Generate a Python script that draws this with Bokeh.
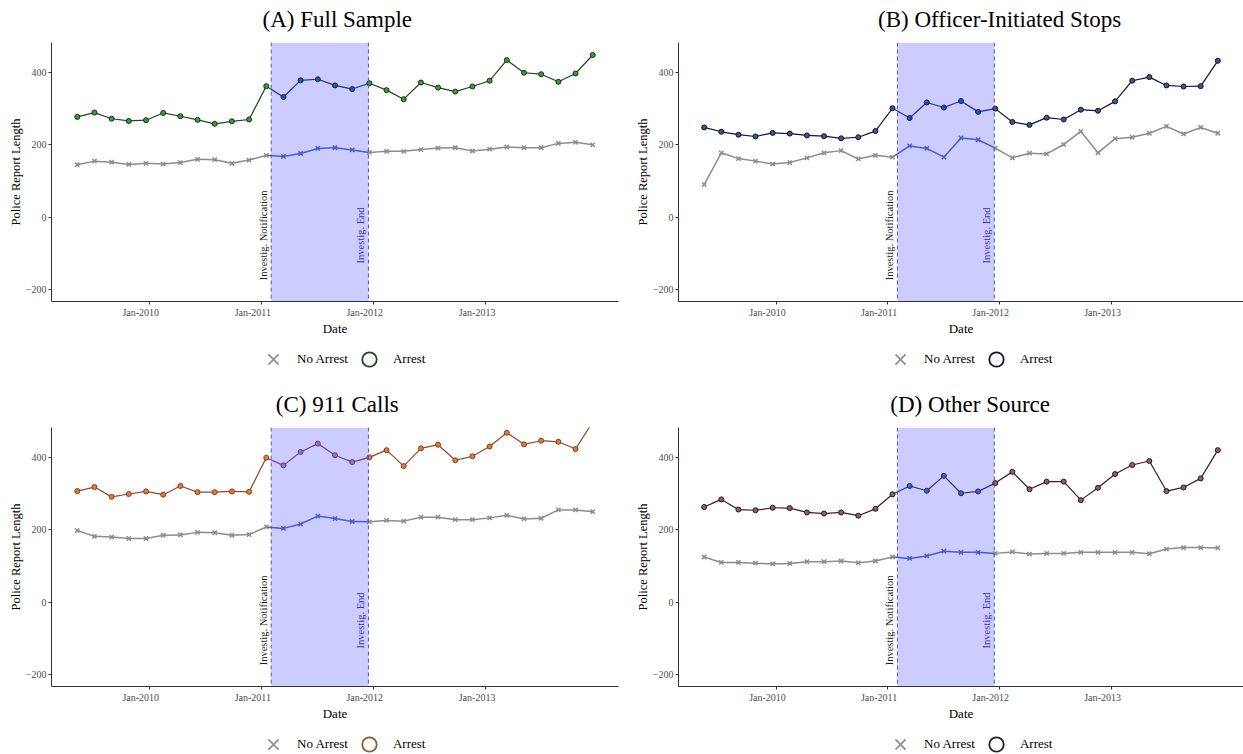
import math
import numpy as np
import pandas as pd
from bokeh.plotting import figure
from bokeh.layouts import column, row
from bokeh.models import (ColumnDataSource, Range1d, FixedTicker, BoxAnnotation, Span, Label,
                          Legend, LegendItem)
from bokeh.embed import file_html
from bokeh.resources import INLINE

# 8-week reporting windows
dates = pd.date_range("2009-05-10", periods=31, freq="56D")
investig_notification = pd.Timestamp("2011-02-01")
investig_end = pd.Timestamp("2011-12-15")

tick_dates = ["2010-01-01", "2011-01-01", "2012-01-01", "2013-01-01"]
tick_labels = ["Jan-2010", "Jan-2011", "Jan-2012", "Jan-2013"]
y_ticks = [-200, 0, 200, 400]
y_limits = (-200, 450)

full_no_arrest = [145, 155, 152, 146, 149, 147, 151, 160, 159, 149, 158, 171, 168, 176, 190, 192,
                  186, 179, 182, 182, 187, 191, 192, 183, 188, 194, 192, 192, 204, 207, 200]
full_arrest = [277, 289, 272, 266, 268, 288, 279, 269, 258, 265, 270, 362, 332, 378, 381, 364,
               354, 370, 351, 326, 372, 358, 347, 361, 377, 434, 399, 395, 374, 397, 448]

officer_no_arrest = [90, 178, 162, 155, 147, 151, 164, 178, 184, 161, 171, 166, 197, 190, 166, 219,
                     214, 191, 164, 177, 175, 201, 237, 178, 217, 221, 232, 251, 230, 248, 232]
officer_arrest = [248, 236, 228, 223, 233, 231, 226, 224, 218, 221, 238, 301, 274, 317, 303, 321,
                  291, 300, 263, 255, 275, 270, 297, 294, 320, 377, 387, 364, 361, 362, 432]

calls_no_arrest = [198, 182, 180, 176, 176, 185, 186, 193, 192, 185, 187, 208, 204, 216, 238, 231,
                   223, 222, 226, 224, 235, 235, 228, 228, 233, 240, 230, 232, 255, 255, 250]
calls_arrest = [307, 318, 291, 299, 306, 297, 321, 304, 304, 306, 305, 399, 378, 415, 438, 406,
                387, 400, 420, 376, 425, 435, 392, 403, 430, 468, 436, 446, 443, 423, 498]

other_no_arrest = [125, 110, 110, 108, 106, 107, 112, 112, 114, 109, 114, 125, 121, 128, 141, 138,
                   138, 135, 139, 133, 135, 135, 138, 138, 138, 138, 134, 147, 151, 151, 150]
other_arrest = [263, 284, 256, 254, 261, 260, 248, 245, 248, 239, 258, 298, 321, 308, 349, 301,
                306, 329, 360, 312, 333, 333, 282, 316, 354, 379, 390, 307, 317, 342, 420]

panels = [
    dict(title="(A) Full Sample", no_arrest=full_no_arrest, arrest=full_arrest,
         line="#1e4620", fill="#3f9a3f", edge="#0f3310",
         win_line="#1b3185", win_fill="#2d56a8", win_edge="#0c1f55", key="#1e4620", title_x=316),
    dict(title="(B) Officer-Initiated Stops", no_arrest=officer_no_arrest, arrest=officer_arrest,
         line="#0e1630", fill="#3d5a8c", edge="#0a0f25",
         win_line="#1a2da0", win_fill="#2f4fb5", win_edge="#0a1560", key="#111833", title_x=350),
    dict(title="(C) 911 Calls", no_arrest=calls_no_arrest, arrest=calls_arrest,
         line="#8c4a2c", fill="#e07c3c", edge="#8a3c18",
         win_line="#6a46a6", win_fill="#9a70c0", win_edge="#5a3a8a", key="#8a5a3a", title_x=316),
    dict(title="(D) Other Source", no_arrest=other_no_arrest, arrest=other_arrest,
         line="#3a1c26", fill="#8e6070", edge="#2a1018",
         win_line="#24308e", win_fill="#5060b0", win_edge="#1c2470", key="#2a2020", title_x=318),
]

GRAY = "#8c8c8c"
GRAY_WIN = "#4b5bd0"
SERIF = "Liberation Serif"

TITLE_H = 42      # strip holding the panel heading
MAIN_H = 296      # frame + x axis
FRAME_H = 261
LEFT = 51
DAY_MS = 86400000
LABEL_LEAD_DAYS = 29   # date labels sit a little ahead of their tick marks
KEY_GLYPH = 36


def to_ms(t):
    return int(pd.Timestamp(t).value // 1_000_000)


in_window = np.asarray((dates >= investig_notification) & (dates <= investig_end))
seg_window = in_window[:-1] | in_window[1:]

span = dates[-1] - dates[0]
x_lo, x_hi = dates[0] - 0.05 * span, dates[-1] + 0.05 * span
y_pad = 0.05 * (y_limits[1] - y_limits[0])

tick_ms = [to_ms(d) for d in tick_dates]
label_ms = [t - LABEL_LEAD_DAYS * DAY_MS for t in tick_ms]


def bare_figure(width, height, x_range, y_range, left=0, right=0):
    f = figure(width=width, height=height, x_range=x_range, y_range=y_range,
               output_backend="svg", toolbar_location=None, title_location=None,
               min_border_left=left, min_border_right=right, min_border_top=0,
               min_border_bottom=0, x_axis_location=None, y_axis_location=None)
    f.outline_line_color = None
    f.xgrid.visible = False
    f.ygrid.visible = False
    return f


def make_heading(spec, width):
    h = bare_figure(width, TITLE_H, Range1d(0, width), Range1d(0, TITLE_H))
    h.add_layout(Label(x=spec["title_x"], y=TITLE_H - 19, text=spec["title"],
                       text_align="center", text_baseline="middle",
                       text_font=SERIF, text_font_size="23px", text_color="black"))
    return h


def make_panel(spec, width, right_border):
    p = figure(width=width, height=MAIN_H, x_axis_type="datetime",
               x_range=Range1d(to_ms(x_lo), to_ms(x_hi)),
               y_range=Range1d(y_limits[0] - y_pad, y_limits[1] + y_pad),
               output_backend="svg", toolbar_location=None, title_location=None,
               min_border_left=LEFT, min_border_right=right_border,
               min_border_top=0, min_border_bottom=MAIN_H - FRAME_H)
    p.outline_line_color = None
    p.xgrid.visible = False
    p.ygrid.visible = False
    p.background_fill_color = "white"
    p.border_fill_color = "white"

    # investigation window
    p.add_layout(BoxAnnotation(left=to_ms(investig_notification), right=to_ms(investig_end),
                               fill_color="#ccccff", fill_alpha=1.0, line_color=None,
                               level="underlay"))
    p.add_layout(Span(location=to_ms(investig_notification), dimension="height",
                      line_color="#5a5a96", line_dash="4 3", line_width=1))
    p.add_layout(Span(location=to_ms(investig_end), dimension="height",
                      line_color="#5050c8", line_dash="4 3", line_width=1))
    p.add_layout(Label(x=to_ms(investig_notification), y=-50, text="Investig. Notification",
                       angle=math.pi / 2, text_align="center", text_baseline="bottom",
                       x_offset=-2, text_font=SERIF, text_font_size="10.5px",
                       text_color="#1a1a1a"))
    p.add_layout(Label(x=to_ms(investig_end), y=-50, text="Investig. End",
                       angle=math.pi / 2, text_align="center", text_baseline="bottom",
                       x_offset=-2, text_font=SERIF, text_font_size="10.5px",
                       text_color="#3333bb"))

    # connecting segments, coloured blue where they touch the window
    for vals, base, win, lw in ((spec["no_arrest"], GRAY, GRAY_WIN, 1.5),
                                (spec["arrest"], spec["line"], spec["win_line"], 1.2)):
        v = np.asarray(vals, dtype=float)
        src = ColumnDataSource(dict(x0=dates[:-1], x1=dates[1:], y0=v[:-1], y1=v[1:],
                                    c=[win if w else base for w in seg_window]))
        p.segment(x0="x0", y0="y0", x1="x1", y1="y1", line_color="c", line_width=lw, source=src)

    # no-arrest markers
    na = np.asarray(spec["no_arrest"], dtype=float)
    p.scatter(x=dates[~in_window], y=na[~in_window], marker="x", size=6,
              line_color=GRAY, line_width=1.5)
    p.scatter(x=dates[in_window], y=na[in_window], marker="x", size=6,
              line_color=GRAY_WIN, line_width=1.5)

    # arrest markers
    ar = np.asarray(spec["arrest"], dtype=float)
    p.scatter(x=dates[~in_window], y=ar[~in_window], marker="circle", size=5,
              fill_color=spec["fill"], line_color=spec["edge"], line_width=1)
    p.scatter(x=dates[in_window], y=ar[in_window], marker="circle", size=5,
              fill_color=spec["win_fill"], line_color=spec["win_edge"], line_width=1)

    # axes: tick marks at January 1st (minor ticks), labels just ahead of them
    p.xaxis.ticker = FixedTicker(ticks=label_ms, minor_ticks=tick_ms)
    p.xaxis.major_label_overrides = dict(zip(label_ms, tick_labels))
    p.xaxis.major_tick_line_color = None
    p.xaxis.minor_tick_line_color = "#333333"
    p.xaxis.minor_tick_out = 3
    p.xaxis.minor_tick_in = 0
    p.yaxis.ticker = FixedTicker(ticks=y_ticks)
    p.yaxis.major_tick_line_color = "#333333"
    p.yaxis.minor_tick_line_color = None
    p.xaxis.axis_label = "Date"
    p.yaxis.axis_label = "Police Report Length"
    for ax in (p.xaxis, p.yaxis):
        ax.axis_line_color = "#333333"
        ax.axis_line_width = 1
        ax.major_tick_out = 3
        ax.major_tick_in = 0
        ax.major_label_text_font = SERIF
        ax.major_label_text_font_size = "10px"
        ax.major_label_text_color = "#4d4d4d"
        ax.axis_label_text_font = SERIF
        ax.axis_label_text_font_style = "normal"
        ax.axis_label_text_color = "black"
    p.xaxis.major_label_standoff = 2
    p.xaxis.axis_label_text_font_size = "13px"
    p.xaxis.axis_label_standoff = 0
    p.yaxis.major_label_standoff = 2
    p.yaxis.axis_label_text_font_size = "12.5px"
    p.yaxis.axis_label_standoff = 0
    return p


def make_key(spec, width, height, right_border):
    k = bare_figure(width, height, Range1d(0, 1), Range1d(0, 1), LEFT, right_border)
    r_x = k.scatter(x=[np.nan], y=[np.nan], marker="x", size=12,
                    line_color=GRAY, line_width=1.6)
    r_o = k.scatter(x=[np.nan], y=[np.nan], marker="circle", size=12,
                    fill_color="white", line_color=spec["key"], line_width=1.8)
    legend = Legend(items=[LegendItem(label="No Arrest", renderers=[r_x]),
                           LegendItem(label="Arrest", renderers=[r_o])],
                    orientation="horizontal", location=(204, height - 21 - KEY_GLYPH // 2),
                    glyph_width=KEY_GLYPH, glyph_height=KEY_GLYPH, label_standoff=6, spacing=3,
                    padding=0, margin=0, border_line_alpha=0, background_fill_alpha=0,
                    label_text_font=SERIF, label_text_font_size="13px",
                    label_text_color="black")
    k.add_layout(legend, "center")
    return k


cells = []
for spec, width, rb, total in ((panels[0], 627, 9, 385), (panels[1], 616, 0, 385),
                               (panels[2], 627, 9, 369), (panels[3], 616, 0, 369)):
    cells.append(column(make_heading(spec, width),
                        make_panel(spec, width, rb),
                        make_key(spec, width, total - TITLE_H - MAIN_H, rb)))

layout = column(row(cells[0], cells[1]), row(cells[2], cells[3]))
open("out.html", "w").write(file_html(layout, INLINE))
